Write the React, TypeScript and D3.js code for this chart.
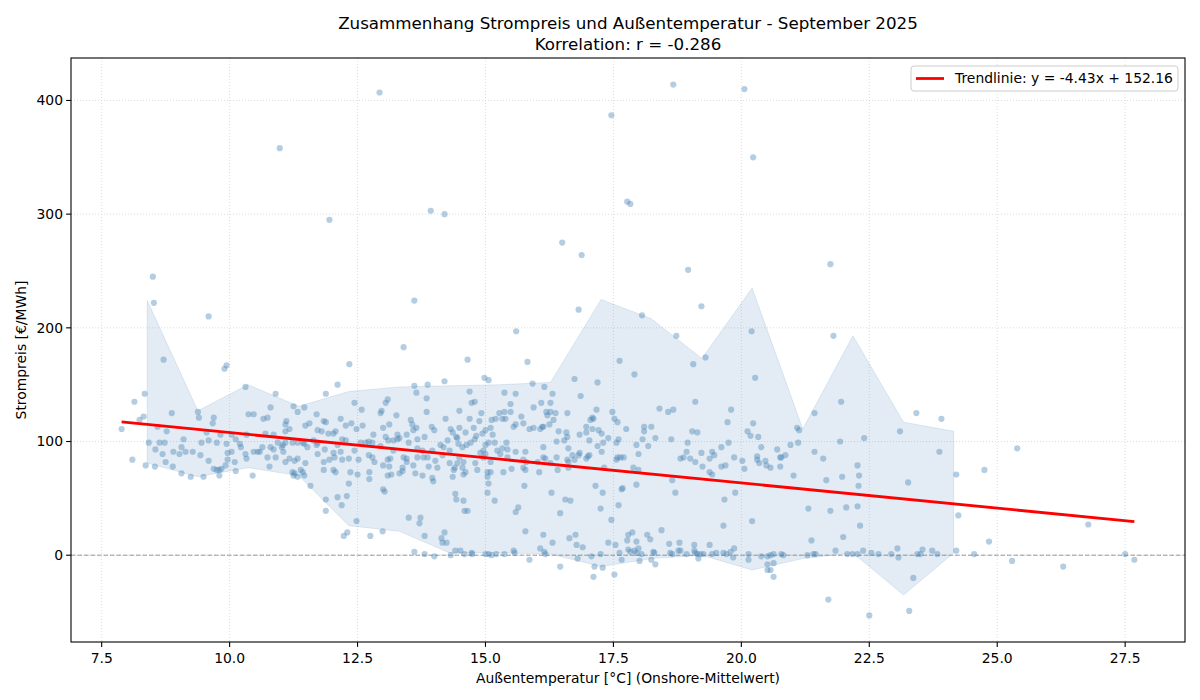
import React, { useEffect, useRef } from 'react';
import * as d3 from 'd3';

// [Außentemperatur °C, Strompreis €/MWh]
const samples: [number, number][] = [
  // high outliers
  [12.93, 407], [17.46, 387], [10.98, 358], [17.77, 311], [17.83, 309], [13.93, 303], [14.2, 300],
  [11.95, 295], [16.5, 275], [16.88, 264], [8.5, 245], [8.52, 222], [13.61, 224], [16.82, 216],
  [9.59, 210], [15.6, 197], [13.4, 183], [14.65, 172], [8.71, 172], [15.82, 170], [17.62, 171],
  [12.34, 168], [18.67, 414], [20.06, 410], [20.23, 350], [21.74, 256], [18.96, 251], [19.22, 219],
  [18.06, 211], [20.2, 197], [18.73, 193], [21.8, 193], [19.3, 174],
  // 8 - 11.4 °C
  [9.94, 167], [9.9, 164], [10.31, 148], [8.34, 142], [10.9, 142], [8.14, 135], [10.8, 130],
  [11.25, 131], [11.33, 126], [9.38, 126], [8.87, 125], [10.37, 124], [10.47, 124], [9.4, 121],
  [8.32, 122], [8.24, 119], [9.69, 121], [9.67, 116], [10.66, 120], [10.74, 121], [11.11, 118],
  [7.89, 111], [8.59, 113], [8.77, 109], [11.09, 115], [11.17, 111], [11.09, 109], [9.55, 108],
  [9.82, 106], [10.04, 106], [10.12, 102], [10.33, 106], [10.7, 107], [10.86, 106], [9.1, 102],
  [9.59, 101], [8.42, 99], [8.63, 99], [8.73, 99], [9.45, 99], [9.75, 99], [9.94, 98], [10.2, 98],
  [10.94, 99], [11.04, 97], [11.09, 99], [11.23, 99], [11.33, 99], [9.06, 95], [10.22, 95],
  [10.64, 95], [10.8, 95], [10.86, 93], [11.02, 95], [11.05, 91], [8.55, 93], [8.9, 91], [9.14, 91],
  [9.28, 91], [8.69, 89], [9.02, 89], [9.43, 88], [10.04, 91], [9.96, 90], [10.47, 91], [10.55, 91],
  [10.59, 91], [10.31, 89], [10.74, 86], [10.9, 86], [9.96, 84], [10.33, 85], [9.59, 83], [8.1, 84],
  [8.75, 82], [10.1, 82], [11.09, 82], [11.17, 85], [11.27, 83], [11.33, 85], [8.36, 79], [8.54, 78],
  [8.89, 78], [9.92, 79], [10.78, 78], [9.69, 76], [9.75, 75], [9.8, 75], [9.84, 76], [10.12, 74],
  [9.06, 72], [11.23, 73], [11.27, 72], [11.39, 75], [9.8, 70], [9.24, 69], [9.49, 69], [10.45, 70],
  [11.25, 70], [11.33, 69],
  // 11.4 - 15.3 °C
  [12.11, 150], [11.88, 142], [14.2, 153], [14.98, 156], [15.06, 154], [13.61, 149], [13.87, 150],
  [13.65, 143], [14.69, 144], [13.85, 138], [13.09, 137], [13.05, 134], [14.73, 134], [14.79, 135],
  [11.46, 130], [12.44, 134], [12.58, 128], [12.97, 127], [12.95, 125], [13.85, 126], [14.49, 127],
  [14.92, 125], [13.26, 123], [11.7, 124], [15.27, 125], [14.88, 118], [15.2, 120], [15.12, 119],
  [12.17, 120], [13.54, 119], [14.22, 120], [14.69, 120], [11.48, 114], [11.56, 116], [11.84, 118],
  [11.88, 117], [12.27, 114], [12.38, 116], [12.6, 114], [13.12, 115], [13.57, 115], [13.95, 113],
  [14.49, 112], [15.1, 112], [14.77, 112], [11.72, 110], [11.8, 109], [12.03, 107], [12.07, 109],
  [12.48, 111], [13.0, 112], [13.65, 112], [13.59, 110], [14.0, 110], [14.32, 111], [14.36, 108],
  [14.61, 108], [15.0, 110], [14.94, 107], [11.93, 107], [12.81, 106], [13.28, 106], [13.32, 103],
  [13.46, 106], [13.81, 104], [14.26, 101], [14.43, 104], [14.45, 103], [14.79, 102], [14.82, 105],
  [15.14, 106], [11.64, 101], [11.72, 99], [12.2, 102], [12.27, 101], [12.56, 99], [12.66, 99],
  [12.72, 100], [12.79, 99], [13.05, 104], [13.1, 101], [13.2, 101], [13.28, 102], [13.67, 102],
  [11.43, 99], [11.46, 98], [12.11, 97], [12.95, 96], [13.5, 99], [14.12, 97], [14.18, 95],
  [14.47, 98], [14.55, 95], [14.63, 97], [14.71, 99], [15.0, 97], [15.06, 99], [15.18, 99],
  [11.52, 95], [11.7, 97], [11.86, 93], [12.44, 92], [13.2, 92], [13.67, 94], [13.77, 92],
  [13.96, 92], [14.3, 92], [14.9, 90], [14.96, 92], [15.23, 92], [11.72, 89], [12.03, 90],
  [12.05, 86], [12.17, 91], [12.72, 88], [12.79, 86], [13.4, 86], [13.46, 85], [13.67, 86],
  [13.79, 86], [13.87, 86], [14.16, 88], [14.49, 86], [14.96, 86], [15.0, 89], [11.48, 81],
  [11.84, 82], [11.95, 84], [12.2, 84], [12.33, 85], [12.52, 84], [12.83, 82], [13.09, 84],
  [13.14, 85], [13.46, 82], [13.59, 79], [14.02, 83], [14.3, 81], [14.45, 81], [14.57, 82],
  [14.8, 81], [15.1, 82], [13.0, 79], [13.12, 78], [13.38, 77], [13.89, 78], [12.03, 75],
  [12.07, 73], [12.36, 73], [12.5, 71], [12.73, 73], [13.09, 70], [13.16, 71], [13.32, 72],
  [13.38, 74], [13.63, 72], [14.06, 77], [14.38, 75], [14.4, 77], [14.55, 77], [14.61, 73],
  [14.57, 71], [14.84, 75], [15.04, 73], [15.1, 73], [11.43, 73], [11.46, 70], [11.84, 75],
  [13.77, 70], [13.96, 68], [13.98, 65], [14.36, 69], [15.04, 69], [11.58, 61], [12.33, 63],
  [12.73, 67], [13.0, 58], [15.06, 63],
  [13.03, 56], [14.41, 54], [14.43, 49], [14.57, 48], [15.04, 55], [15.18, 48], [11.88, 49],
  [12.11, 51], [12.29, 52], [12.19, 44], [11.88, 39], [14.59, 39], [14.65, 39], [13.5, 33],
  [13.73, 33], [13.71, 28], [12.48, 30], [12.3, 20], [12.23, 17], [12.75, 17], [12.99, 21],
  [13.81, 17], [14.2, 20], [14.14, 15], [14.16, 11], [14.24, 11], [13.61, 3], [13.81, 1],
  [14.0, -1], [14.32, 0], [14.41, 4], [14.51, 4], [14.59, 1], [14.73, 2], [14.74, 1], [15.0, 1],
  [15.06, 1], [15.12, 0], [15.21, 1],
  // 15.3 - 19.2 °C
  [19.06, 168], [17.91, 159], [16.74, 155], [17.19, 152], [15.92, 151], [16.15, 148], [15.37, 143],
  [15.59, 142], [16.31, 142], [16.86, 140], [19.1, 135], [16.09, 134], [16.27, 134], [15.49, 133],
  [15.94, 130], [18.4, 129], [18.67, 128], [18.57, 126], [17.17, 128], [15.37, 126], [15.49, 126],
  [16.19, 126], [16.27, 126], [16.37, 125], [16.6, 125], [17.48, 126], [15.7, 122], [15.33, 120],
  [15.39, 120], [16.21, 123], [17.09, 121], [17.11, 120], [17.52, 120], [17.58, 117], [16.33, 119],
  [17.05, 119], [15.59, 115], [15.55, 113], [15.74, 116], [16.11, 113], [16.07, 111], [16.13, 113],
  [16.25, 115], [16.97, 113], [15.86, 111], [15.94, 112], [17.75, 111], [18.1, 113], [18.1, 109],
  [18.24, 113], [19.04, 109], [19.14, 108], [16.43, 109], [16.58, 108], [16.97, 108], [17.09, 111],
  [17.21, 110], [17.27, 107], [16.84, 106], [16.6, 104], [17.4, 103], [17.3, 99], [17.6, 102],
  [17.56, 99], [18.07, 102], [18.32, 103], [18.63, 102], [15.41, 99], [16.39, 100], [16.54, 101],
  [17.03, 101], [18.95, 99], [17.95, 97], [18.18, 96], [16.13, 95], [17.19, 96], [15.33, 94],
  [15.43, 93], [15.59, 91], [16.62, 94], [17.27, 91], [18.93, 91], [15.78, 91], [15.29, 89],
  [15.43, 86], [16.7, 88], [16.74, 84], [16.82, 88], [16.84, 90], [17.0, 87], [17.03, 88],
  [17.58, 86], [17.64, 86], [17.7, 86], [17.99, 89], [17.56, 84], [16.13, 86], [16.17, 85],
  [16.39, 86], [16.6, 84], [16.62, 82], [16.97, 85], [18.81, 85], [18.87, 86], [19.0, 85],
  [19.1, 82], [15.74, 84], [15.8, 82], [16.02, 82], [16.27, 81], [15.51, 76], [15.74, 77],
  [15.78, 75], [16.05, 73], [16.41, 75], [16.62, 77], [17.32, 77], [17.89, 77], [17.99, 75],
  [15.35, 73], [15.76, 61], [17.15, 61], [17.68, 59], [17.95, 62], [18.65, 66],
  [16.29, 55], [17.29, 55], [17.66, 58], [18.71, 55], [16.56, 49], [16.66, 48], [15.64, 42],
  [15.59, 38], [17.25, 41], [17.6, 44], [16.46, 37], [17.46, 31], [15.78, 21], [16.13, 18],
  [16.76, 18], [16.64, 15], [17.79, 18], [17.87, 20], [18.16, 18], [18.22, 14], [18.44, 22],
  [17.77, 13], [17.95, 12], [16.31, 11], [17.4, 11], [17.54, 9], [16.07, 6], [16.78, 9], [16.9, 7],
  [15.37, 1], [15.55, 4], [15.57, 2], [16.15, 3], [16.17, 1], [17.07, -1], [17.25, 1], [17.62, 2],
  [17.79, 5], [17.83, 3], [17.91, 4], [17.99, 6], [18.05, 1], [17.95, 2], [18.28, 3], [18.3, 2],
  [18.59, 10], [18.79, 11], [18.61, 2], [18.65, 1], [18.77, 4], [18.81, 4], [18.93, 1], [19.08, 9],
  [19.08, 4], [19.1, 2], [19.14, 1], [19.16, -3], [15.86, -4], [16.8, -3], [17.13, -10],
  [17.29, -11], [17.66, -4], [18.01, -5], [18.24, -4], [18.32, -8], [16.46, -10], [17.11, -19],
  [17.52, -17],
  // 19.2 - 23.2 °C
  [20.27, 156], [21.95, 135], [19.8, 128], [21.43, 125], [19.73, 117], [20.23, 116], [21.09, 112],
  [21.13, 110], [20.12, 109], [20.33, 104], [20.18, 105], [19.75, 99], [21.11, 99], [21.93, 100],
  [22.4, 103], [23.1, 109], [20.96, 97], [20.39, 95], [19.61, 95], [19.43, 91], [19.47, 88],
  [20.7, 93], [20.86, 88], [20.76, 86], [20.78, 86], [21.43, 91], [19.22, 90], [19.38, 85],
  [19.86, 86], [20.31, 87], [20.31, 84], [21.6, 85], [20.02, 83], [20.47, 83], [20.35, 81],
  [20.49, 79], [20.57, 77], [20.76, 78], [19.24, 78], [19.61, 78], [19.69, 79], [20.06, 76],
  [22.27, 79], [19.38, 73], [19.43, 71], [21.02, 70], [22.3, 70], [21.97, 69], [21.66, 66],
  [22.29, 61],
  [19.88, 55], [19.67, 49], [21.31, 41], [21.74, 39], [22.05, 42], [22.27, 43], [20.21, 30],
  [19.65, 26], [22.32, 26], [21.99, 16], [21.37, 13], [19.38, 9], [19.86, 6], [23.05, 6],
  [21.84, 4], [22.38, 4], [19.2, 1], [19.26, 1], [19.43, 1], [19.51, 2], [19.65, 2], [19.71, 1],
  [19.79, 3], [19.84, -2], [20.14, 1], [20.14, -4], [20.39, -1], [20.51, -1], [20.57, 0],
  [20.63, 1], [20.51, -8], [20.63, -7], [20.51, -13], [20.57, -13], [20.63, -19], [20.78, 1],
  [20.82, 0], [21.29, 0], [21.41, 1], [21.45, 1], [22.07, 1], [22.17, 1], [22.27, 1], [22.54, 2],
  [22.68, 1], [22.93, 1], [23.07, -2], [21.7, -39], [22.5, -53],
  // > 23.2 °C
  [23.42, 125], [23.91, 120], [25.39, 94], [23.87, 91], [24.75, 75], [24.2, 71], [23.26, 64],
  [24.24, 35], [26.78, 27], [24.84, 12], [23.54, 5], [23.73, 4], [24.2, 4], [23.44, 1], [23.5, 1],
  [23.83, 1], [24.55, 1], [27.5, 1], [27.68, -4], [25.29, -5], [26.29, -10], [23.36, -20],
  [23.28, -49],
];

// Band per temperature bin (centre, lower, upper)
const binCenters = [8.39, 9.38, 10.36, 11.35, 12.33, 13.32, 14.3, 15.29, 16.27, 17.26, 18.24, 19.23, 20.21, 21.2, 22.18, 23.17, 24.15];
const bandUpper = [224, 127, 150, 131, 144, 148, 149, 150, 152, 225, 208, 173, 235, 111, 193, 117, 109];
const bandLower = [81, 69, 77, 70, 26, 21, 2, 2, 1, -10, -3, 0, -13, -3, 2, -35, 2];

const trendSlope = -4.43;
const trendIntercept = 152.16;
const correlation = -0.286;

const xTicks = [7.5, 10, 12.5, 15, 17.5, 20, 22.5, 25, 27.5];
const yTicks = [0, 100, 200, 300, 400];

const App = () => {
  const ref = useRef<SVGSVGElement | null>(null);

  useEffect(() => {
    const width = 1200;
    const height = 700;
    const margin = { top: 58, right: 15, bottom: 58, left: 71 };
    const font = 'DejaVu Sans, sans-serif';

    const svg = d3.select(ref.current);
    svg.selectAll('*').remove();

    const xs = samples.map((d) => d[0]);
    const ys = samples.map((d) => d[1]);
    const [xMin, xMax] = d3.extent(xs) as [number, number];
    const [yMin, yMax] = d3.extent(ys) as [number, number];
    const xPad = (xMax - xMin) * 0.05;
    const yPad = (yMax - yMin) * 0.05;

    const x = d3
      .scaleLinear()
      .domain([xMin - xPad, xMax + xPad])
      .range([margin.left, width - margin.right]);
    const y = d3
      .scaleLinear()
      .domain([yMin - yPad, yMax + yPad])
      .range([height - margin.bottom, margin.top]);

    const plotW = width - margin.left - margin.right;
    const plotH = height - margin.top - margin.bottom;

    svg.append('rect').attr('width', width).attr('height', height).attr('fill', '#fff');

    // grid
    const grid = svg.append('g').attr('stroke', '#b0b0b0').attr('stroke-opacity', 0.55).attr('stroke-width', 0.8).attr('stroke-dasharray', '1,2');
    xTicks.forEach((t) => {
      grid.append('line').attr('x1', x(t)).attr('x2', x(t)).attr('y1', margin.top).attr('y2', margin.top + plotH);
    });
    yTicks.forEach((t) => {
      grid.append('line').attr('x1', margin.left).attr('x2', margin.left + plotW).attr('y1', y(t)).attr('y2', y(t));
    });

    // band
    const band = binCenters.map((c, i) => ({ c, lo: bandLower[i], hi: bandUpper[i] }));
    const area = d3
      .area<{ c: number; lo: number; hi: number }>()
      .x((d) => x(d.c))
      .y0((d) => y(d.lo))
      .y1((d) => y(d.hi));
    svg
      .append('path')
      .attr('d', area(band))
      .attr('fill', 'steelblue')
      .attr('fill-opacity', 0.15)
      .attr('stroke', 'steelblue')
      .attr('stroke-opacity', 0.15)
      .attr('stroke-width', 1);

    // zero line
    svg
      .append('line')
      .attr('x1', margin.left)
      .attr('x2', margin.left + plotW)
      .attr('y1', y(0))
      .attr('y2', y(0))
      .attr('stroke', '#808080')
      .attr('stroke-opacity', 0.8)
      .attr('stroke-width', 1)
      .attr('stroke-dasharray', '4.5,2');

    // points
    svg
      .append('g')
      .selectAll('circle')
      .data(samples)
      .enter()
      .append('circle')
      .attr('cx', (d) => x(d[0]))
      .attr('cy', (d) => y(d[1]))
      .attr('r', 3.1)
      .attr('fill', 'steelblue')
      .attr('fill-opacity', 0.4);

    // trend line
    const trend = [xMin, xMax].map((t) => [t, trendSlope * t + trendIntercept] as [number, number]);
    svg
      .append('path')
      .attr('d', d3.line().x((d) => x(d[0])).y((d) => y(d[1]))(trend))
      .attr('stroke', 'red')
      .attr('stroke-width', 2.8)
      .attr('fill', 'none');

    // frame
    svg
      .append('rect')
      .attr('x', margin.left)
      .attr('y', margin.top)
      .attr('width', plotW)
      .attr('height', plotH)
      .attr('fill', 'none')
      .attr('stroke', '#000')
      .attr('stroke-width', 1.1);

    // axes ticks
    const axisG = svg.append('g').attr('font-family', font).attr('font-size', 13.9).attr('fill', '#000');
    xTicks.forEach((t) => {
      axisG.append('line').attr('x1', x(t)).attr('x2', x(t)).attr('y1', margin.top + plotH).attr('y2', margin.top + plotH + 4.9).attr('stroke', '#000').attr('stroke-width', 1.1);
      axisG.append('text').attr('x', x(t)).attr('y', margin.top + plotH + 21).attr('text-anchor', 'middle').text(d3.format('.1f')(t));
    });
    yTicks.forEach((t) => {
      axisG.append('line').attr('x1', margin.left - 4.9).attr('x2', margin.left).attr('y1', y(t)).attr('y2', y(t)).attr('stroke', '#000').attr('stroke-width', 1.1);
      axisG.append('text').attr('x', margin.left - 8).attr('y', y(t)).attr('dy', '0.35em').attr('text-anchor', 'end').text(String(t));
    });

    axisG
      .append('text')
      .attr('x', margin.left + plotW / 2)
      .attr('y', height - 17)
      .attr('text-anchor', 'middle')
      .text('Außentemperatur [°C] (Onshore-Mittelwert)');
    axisG
      .append('text')
      .attr('transform', `translate(26, ${margin.top + plotH / 2}) rotate(-90)`)
      .attr('text-anchor', 'middle')
      .text('Strompreis [€/MWh]');

    // title
    const title = svg.append('g').attr('font-family', font).attr('font-size', 16.7).attr('text-anchor', 'middle');
    title.append('text').attr('x', margin.left + plotW / 2).attr('y', 29).text('Zusammenhang Strompreis und Außentemperatur - September 2025');
    title.append('text').attr('x', margin.left + plotW / 2).attr('y', 50).text(`Korrelation: r = ${correlation.toFixed(3)}`);

    // legend
    const lg = svg.append('g').attr('transform', `translate(${width - margin.right - 274}, ${margin.top + 8})`);
    lg.append('rect').attr('width', 267).attr('height', 25).attr('rx', 3).attr('fill', '#fff').attr('fill-opacity', 0.8).attr('stroke', '#ccc');
    lg.append('line').attr('x1', 5).attr('x2', 33).attr('y1', 12.5).attr('y2', 12.5).attr('stroke', 'red').attr('stroke-width', 2.8);
    lg.append('text')
      .attr('x', 44)
      .attr('y', 12.5)
      .attr('dy', '0.35em')
      .attr('font-family', font)
      .attr('font-size', 13.9)
      .text(`Trendlinie: y = ${trendSlope.toFixed(2)}x + ${trendIntercept.toFixed(2)}`);
  }, []);

  return (
    <svg
      ref={ref}
      width={1200}
      height={700}
      style={{ position: 'absolute', left: 0, top: 0 }}
    />
  );
};

export default App;
